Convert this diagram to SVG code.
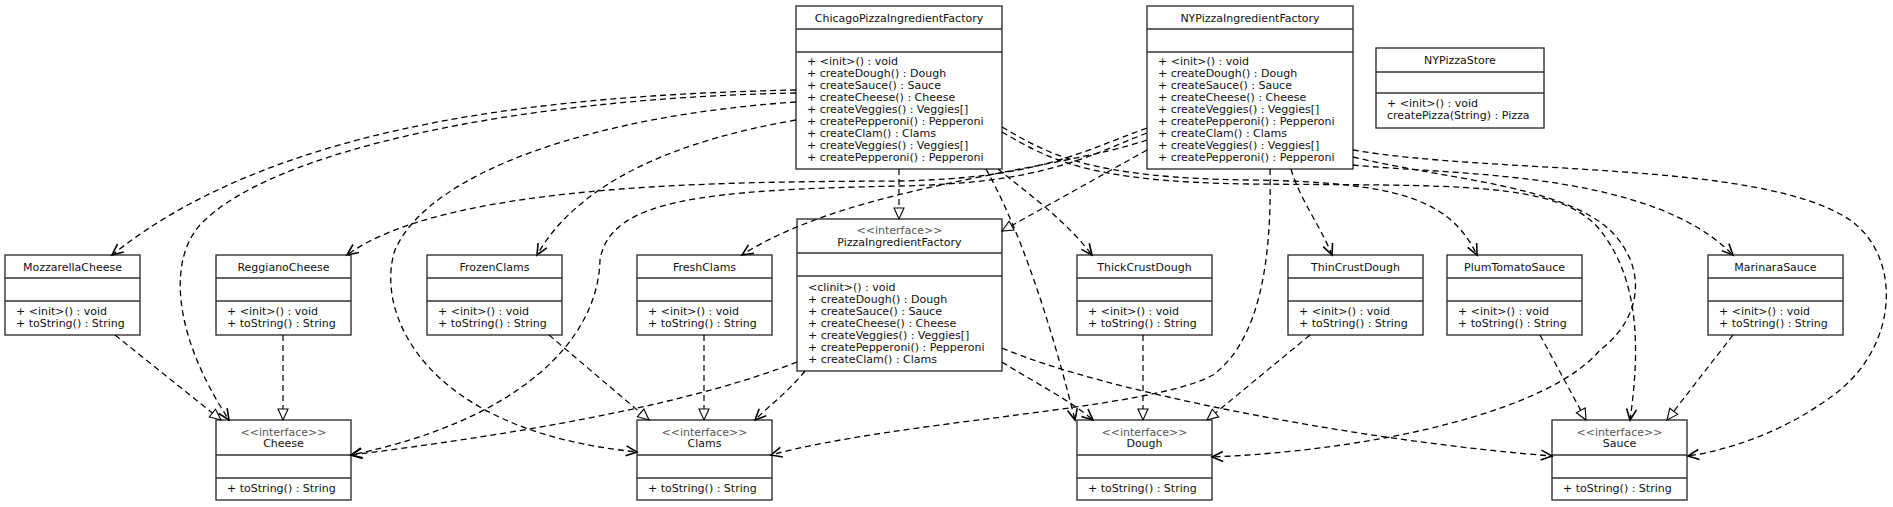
<svg xmlns="http://www.w3.org/2000/svg" width="1893" height="507" viewBox="0 0 1893 507">
<style>
.box{fill:#fff;stroke:#333;stroke-width:1.4}
.sep{stroke:#333;stroke-width:1.4}
text{font-family:"DejaVu Sans","Liberation Sans",sans-serif;font-size:11px;fill:#111}
.t{text-anchor:middle}
.st{text-anchor:middle;fill:#555}
.dep{fill:none;stroke:#000;stroke-width:1.3;stroke-dasharray:6,4;marker-end:url(#open)}
.real{fill:none;stroke:#000;stroke-width:1.2;stroke-dasharray:6,4;marker-end:url(#tri)}
</style>
<defs>
<marker id="open" markerUnits="userSpaceOnUse" markerWidth="14" markerHeight="12" refX="11" refY="5" orient="auto" overflow="visible">
<path d="M0,0 L11,5 L0,10" fill="none" stroke="#000" stroke-width="1.6" stroke-dasharray="none"/>
</marker>
<marker id="tri" markerUnits="userSpaceOnUse" markerWidth="14" markerHeight="12" refX="11" refY="5" orient="auto" overflow="visible">
<path d="M0,0 L11,5 L0,10 Z" fill="#fff" stroke="#000" stroke-width="1.1" stroke-dasharray="none"/>
</marker>
</defs>
<rect width="1893" height="507" fill="#fff"/>

<g id="ChicagoPizzaIngredientFactory" transform="translate(796,6)">
<rect class="box" width="206" height="163"/>
<line class="sep" x1="0" y1="23" x2="206" y2="23"/>
<line class="sep" x1="0" y1="46" x2="206" y2="46"/>
<text class="t" x="103" y="15.5">ChicagoPizzaIngredientFactory</text>
<text x="11" y="59">+ &lt;init&gt;() : void</text>
<text x="11" y="71">+ createDough() : Dough</text>
<text x="11" y="83">+ createSauce() : Sauce</text>
<text x="11" y="95">+ createCheese() : Cheese</text>
<text x="11" y="107">+ createVeggies() : Veggies[]</text>
<text x="11" y="119">+ createPepperoni() : Pepperoni</text>
<text x="11" y="131">+ createClam() : Clams</text>
<text x="11" y="143">+ createVeggies() : Veggies[]</text>
<text x="11" y="155">+ createPepperoni() : Pepperoni</text>
</g>

<g id="NYPizzaIngredientFactory" transform="translate(1147,6)">
<rect class="box" width="206" height="163"/>
<line class="sep" x1="0" y1="23" x2="206" y2="23"/>
<line class="sep" x1="0" y1="46" x2="206" y2="46"/>
<text class="t" x="103" y="15.5">NYPizzaIngredientFactory</text>
<text x="11" y="59">+ &lt;init&gt;() : void</text>
<text x="11" y="71">+ createDough() : Dough</text>
<text x="11" y="83">+ createSauce() : Sauce</text>
<text x="11" y="95">+ createCheese() : Cheese</text>
<text x="11" y="107">+ createVeggies() : Veggies[]</text>
<text x="11" y="119">+ createPepperoni() : Pepperoni</text>
<text x="11" y="131">+ createClam() : Clams</text>
<text x="11" y="143">+ createVeggies() : Veggies[]</text>
<text x="11" y="155">+ createPepperoni() : Pepperoni</text>
</g>

<g id="NYPizzaStore" transform="translate(1376,48)">
<rect class="box" width="168" height="80"/>
<line class="sep" x1="0" y1="24" x2="168" y2="24"/>
<line class="sep" x1="0" y1="45" x2="168" y2="45"/>
<text class="t" x="84" y="16">NYPizzaStore</text>
<text x="11" y="59">+ &lt;init&gt;() : void</text>
<text x="11" y="71">createPizza(String) : Pizza</text>
</g>

<g id="PizzaIngredientFactory" transform="translate(797,219)">
<rect class="box" width="205" height="152"/>
<line class="sep" x1="0" y1="34" x2="205" y2="34"/>
<line class="sep" x1="0" y1="57" x2="205" y2="57"/>
<text class="st" x="102.5" y="15">&lt;&lt;interface&gt;&gt;</text>
<text class="t" x="102.5" y="27">PizzaIngredientFactory</text>
<text x="11" y="72">&lt;clinit&gt;() : void</text>
<text x="11" y="84">+ createDough() : Dough</text>
<text x="11" y="96">+ createSauce() : Sauce</text>
<text x="11" y="108">+ createCheese() : Cheese</text>
<text x="11" y="120">+ createVeggies() : Veggies[]</text>
<text x="11" y="132">+ createPepperoni() : Pepperoni</text>
<text x="11" y="144">+ createClam() : Clams</text>
</g>

<g id="MozzarellaCheese" transform="translate(5,255)">
<rect class="box" width="135" height="80"/>
<line class="sep" x1="0" y1="23" x2="135" y2="23"/>
<line class="sep" x1="0" y1="46" x2="135" y2="46"/>
<text class="t" x="67.5" y="15.5">MozzarellaCheese</text>
<text x="11" y="60">+ &lt;init&gt;() : void</text>
<text x="11" y="72">+ toString() : String</text>
</g>
<g id="ReggianoCheese" transform="translate(216,255)">
<rect class="box" width="135" height="80"/>
<line class="sep" x1="0" y1="23" x2="135" y2="23"/>
<line class="sep" x1="0" y1="46" x2="135" y2="46"/>
<text class="t" x="67.5" y="15.5">ReggianoCheese</text>
<text x="11" y="60">+ &lt;init&gt;() : void</text>
<text x="11" y="72">+ toString() : String</text>
</g>
<g id="FrozenClams" transform="translate(427,255)">
<rect class="box" width="135" height="80"/>
<line class="sep" x1="0" y1="23" x2="135" y2="23"/>
<line class="sep" x1="0" y1="46" x2="135" y2="46"/>
<text class="t" x="67.5" y="15.5">FrozenClams</text>
<text x="11" y="60">+ &lt;init&gt;() : void</text>
<text x="11" y="72">+ toString() : String</text>
</g>
<g id="FreshClams" transform="translate(637,255)">
<rect class="box" width="135" height="80"/>
<line class="sep" x1="0" y1="23" x2="135" y2="23"/>
<line class="sep" x1="0" y1="46" x2="135" y2="46"/>
<text class="t" x="67.5" y="15.5">FreshClams</text>
<text x="11" y="60">+ &lt;init&gt;() : void</text>
<text x="11" y="72">+ toString() : String</text>
</g>
<g id="ThickCrustDough" transform="translate(1077,255)">
<rect class="box" width="135" height="80"/>
<line class="sep" x1="0" y1="23" x2="135" y2="23"/>
<line class="sep" x1="0" y1="46" x2="135" y2="46"/>
<text class="t" x="67.5" y="15.5">ThickCrustDough</text>
<text x="11" y="60">+ &lt;init&gt;() : void</text>
<text x="11" y="72">+ toString() : String</text>
</g>
<g id="ThinCrustDough" transform="translate(1288,255)">
<rect class="box" width="135" height="80"/>
<line class="sep" x1="0" y1="23" x2="135" y2="23"/>
<line class="sep" x1="0" y1="46" x2="135" y2="46"/>
<text class="t" x="67.5" y="15.5">ThinCrustDough</text>
<text x="11" y="60">+ &lt;init&gt;() : void</text>
<text x="11" y="72">+ toString() : String</text>
</g>
<g id="PlumTomatoSauce" transform="translate(1447,255)">
<rect class="box" width="135" height="80"/>
<line class="sep" x1="0" y1="23" x2="135" y2="23"/>
<line class="sep" x1="0" y1="46" x2="135" y2="46"/>
<text class="t" x="67.5" y="15.5">PlumTomatoSauce</text>
<text x="11" y="60">+ &lt;init&gt;() : void</text>
<text x="11" y="72">+ toString() : String</text>
</g>
<g id="MarinaraSauce" transform="translate(1708,255)">
<rect class="box" width="135" height="80"/>
<line class="sep" x1="0" y1="23" x2="135" y2="23"/>
<line class="sep" x1="0" y1="46" x2="135" y2="46"/>
<text class="t" x="67.5" y="15.5">MarinaraSauce</text>
<text x="11" y="60">+ &lt;init&gt;() : void</text>
<text x="11" y="72">+ toString() : String</text>
</g>

<g id="Cheese" transform="translate(216,420)">
<rect class="box" width="135" height="80"/>
<line class="sep" x1="0" y1="35" x2="135" y2="35"/>
<line class="sep" x1="0" y1="58" x2="135" y2="58"/>
<text class="st" x="67.5" y="15.5">&lt;&lt;interface&gt;&gt;</text>
<text class="t" x="67.5" y="27">Cheese</text>
<text x="11" y="72">+ toString() : String</text>
</g>
<g id="Clams" transform="translate(637,420)">
<rect class="box" width="135" height="80"/>
<line class="sep" x1="0" y1="35" x2="135" y2="35"/>
<line class="sep" x1="0" y1="58" x2="135" y2="58"/>
<text class="st" x="67.5" y="15.5">&lt;&lt;interface&gt;&gt;</text>
<text class="t" x="67.5" y="27">Clams</text>
<text x="11" y="72">+ toString() : String</text>
</g>
<g id="Dough" transform="translate(1077,420)">
<rect class="box" width="135" height="80"/>
<line class="sep" x1="0" y1="35" x2="135" y2="35"/>
<line class="sep" x1="0" y1="58" x2="135" y2="58"/>
<text class="st" x="67.5" y="15.5">&lt;&lt;interface&gt;&gt;</text>
<text class="t" x="67.5" y="27">Dough</text>
<text x="11" y="72">+ toString() : String</text>
</g>
<g id="Sauce" transform="translate(1552,420)">
<rect class="box" width="135" height="80"/>
<line class="sep" x1="0" y1="35" x2="135" y2="35"/>
<line class="sep" x1="0" y1="58" x2="135" y2="58"/>
<text class="st" x="67.5" y="15.5">&lt;&lt;interface&gt;&gt;</text>
<text class="t" x="67.5" y="27">Sauce</text>
<text x="11" y="72">+ toString() : String</text>
</g>

<g id="connectors">
<!-- realizations -->
<path class="real" d="M899,169 L899,219"/>
<path class="real" d="M1147,150 L1002,231"/>
<path class="real" d="M115,335 L221,420"/>
<path class="real" d="M283,335 L283,420"/>
<path class="real" d="M549,335 L649,420"/>
<path class="real" d="M704,335 L704,420"/>
<path class="real" d="M1143,335 L1143,420"/>
<path class="real" d="M1310,335 L1207,420"/>
<path class="real" d="M1540,335 L1586,420"/>
<path class="real" d="M1733,335 L1667,420"/>
<!-- Chicago dependencies -->
<path class="dep" d="M796,90 C560,95 280,120 112,255"/>
<path class="dep" d="M796,93 C520,98 270,150 200,225 C170,258 170,330 229,420"/>
<path class="dep" d="M796,102 C600,115 430,170 395,250 C375,310 420,430 637,452"/>
<path class="dep" d="M796,120 C680,140 580,180 537,255"/>
<path class="dep" d="M998,169 C1030,195 1065,220 1092,255"/>
<path class="dep" d="M986,169 C1020,230 1050,320 1075,420"/>
<path class="dep" d="M1002,127 C1050,155 1090,178 1250,180 C1400,182 1450,200 1477,255"/>
<path class="dep" d="M1002,132 C1050,160 1090,182 1250,184 C1450,186 1560,180 1600,230 C1640,280 1640,350 1630,420"/>
<!-- NY dependencies -->
<path class="dep" d="M1147,128 C1080,152 1040,178 900,181 C750,182 450,180 347,255"/>
<path class="dep" d="M1147,133 C1085,157 1045,183 900,186 C700,190 610,200 600,260 C598,340 520,420 351,455"/>
<path class="dep" d="M1147,140 C1060,170 850,185 742,255"/>
<path class="dep" d="M1291,169 C1300,200 1320,225 1332,255"/>
<path class="dep" d="M1270,169 C1272,260 1260,340 1213,375 C1150,410 900,420 771,455"/>
<path class="dep" d="M1353,165 C1450,175 1650,170 1733,255"/>
<path class="dep" d="M1353,157 C1450,180 1560,185 1610,230 C1650,270 1640,320 1600,350 C1550,410 1380,450 1212,457"/>
<path class="dep" d="M1353,150 C1500,175 1760,160 1850,220 C1900,255 1900,340 1840,390 C1790,430 1730,450 1688,456"/>
<!-- PizzaIngredientFactory dependencies -->
<path class="dep" d="M805,371 C790,390 770,405 755,420"/>
<path class="dep" d="M797,362 C700,400 550,430 351,455"/>
<path class="dep" d="M1002,362 C1030,380 1070,400 1093,420"/>
<path class="dep" d="M1002,348 C1100,390 1350,440 1552,456"/>
</g>
</svg>
